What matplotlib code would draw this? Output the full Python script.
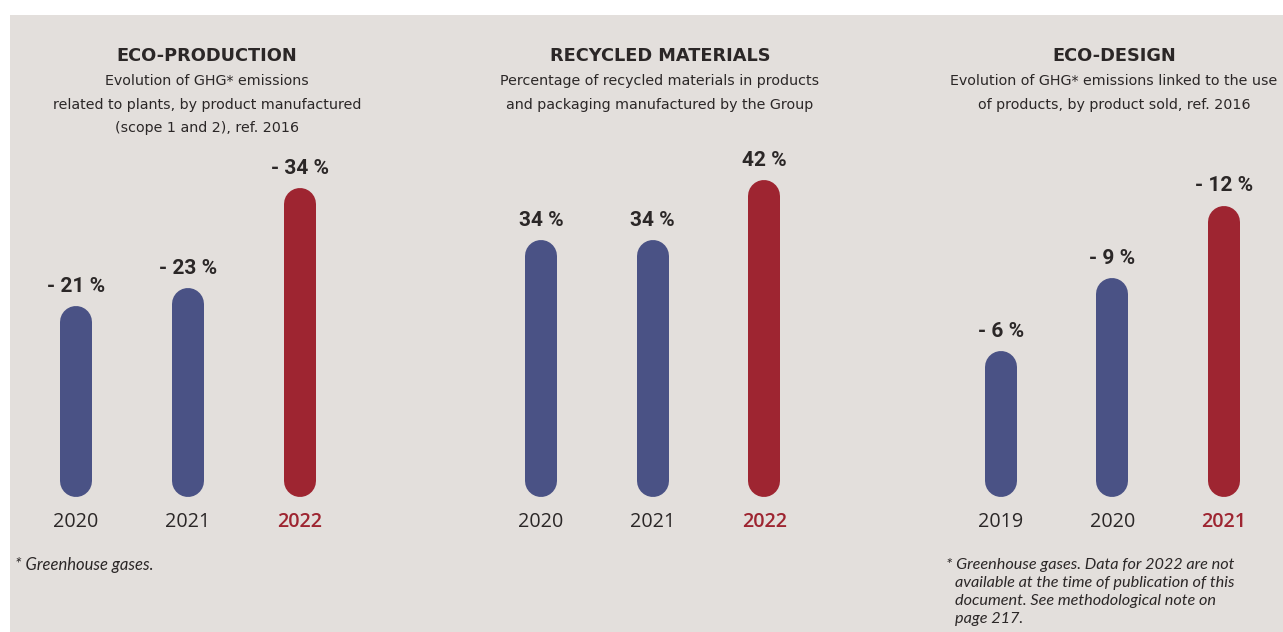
import matplotlib
matplotlib.use("Agg")
import matplotlib.pyplot as plt
from matplotlib.patches import Rectangle

# data
prod_years = ["2020", "2021", "2022"]
prod_values = [21, 23, 34]
recycled_years = ["2020", "2021", "2022"]
recycled_values = [34, 34, 42]
design_years = ["2019", "2020", "2021"]
design_values = [6, 9, 12]

blue = "#4a5285"
red = "#9e2531"
dark = "#2b2727"
bg = "#e3dfdc"

W, H = 1283, 632
fig = plt.figure(figsize=(W / 100, H / 100), dpi=100)
fig.patches.append(Rectangle((10 / W, 0), 1, 1 - 15 / H, transform=fig.transFigure,
                             facecolor=bg, edgecolor="none", zorder=-5))

narrow = ["Liberation Sans Narrow", "DejaVu Sans Condensed", "DejaVu Sans"]


def px(x, y):
    return x / W, 1 - y / H


def panel(x0, x1, years, values, ytop, neg):
    # axes from pixel y=140 to y=497
    left, bottom = px(x0, 497)
    ax = fig.add_axes([left, bottom, (x1 - x0) / W, 357 / H])
    ax.set_xlim(-0.5, 2.5)
    ax.set_ylim(0, ytop)
    ax.axis("off")
    r = 16 / (357 / ytop)  # cap radius in data units
    for i, (yr, v) in enumerate(zip(years, values)):
        last = i == len(values) - 1
        c = red if last else blue
        ax.plot([i, i], [r, v - r], color=c, lw=32 * 0.72, solid_capstyle="round")
        lab = ("- {0} %" if neg else "{0} %").format(v)
        ax.annotate(lab, (i, v), xytext=(0, 20), textcoords="offset pixels",
                    ha="center", va="center", fontsize=15, fontweight="bold",
                    family="Roboto", color=dark)
        ax.annotate(yr, (i, 0), xytext=(0, -25), textcoords="offset pixels",
                    ha="center", va="center", fontsize=14.2,
                    family="Open Sans", color=c if last else dark,
                    fontweight="semibold" if last else "normal")
    return ax


panel(20, 356, prod_years, prod_values, 39.3, True)
panel(485, 820, recycled_years, recycled_values, 47.3, False)
panel(945, 1280, design_years, design_values, 14.7, True)

titles = [
    (207, "ECO-PRODUCTION", ["Evolution of GHG* emissions",
                             "related to plants, by product manufactured",
                             "(scope 1 and 2), ref. 2016"]),
    (660, "RECYCLED MATERIALS", ["Percentage of recycled materials in products",
                                 "and packaging manufactured by the Group"]),
    (1114, "ECO-DESIGN", ["Evolution of GHG* emissions linked to the use",
                          "of products, by product sold, ref. 2016"]),
]
for cx, t, lines in titles:
    fig.text(*px(cx, 56), t, ha="center", va="center", fontsize=12.8,
             fontweight="bold", family=narrow, color=dark)
    for j, ln in enumerate(lines):
        fig.text(*px(cx, 81 + 23.5 * j), ln, ha="center", va="center",
                 fontsize=10.3, family=narrow, color=dark)

fig.text(*px(15, 565), "* Greenhouse gases.", ha="left", va="center",
         fontsize=12, style="italic", family="Lato", color=dark)
notes = ["* Greenhouse gases. Data for 2022 are not",
         "available at the time of publication of this",
         "document. See methodological note on",
         "page 217."]
for j, ln in enumerate(notes):
    x = 946 if j == 0 else 955
    fig.text(*px(x, 565 + 18 * j), ln, ha="left", va="center",
             fontsize=11.7, style="italic", family="Lato", color=dark)

fig.savefig("out.png", dpi=100)
